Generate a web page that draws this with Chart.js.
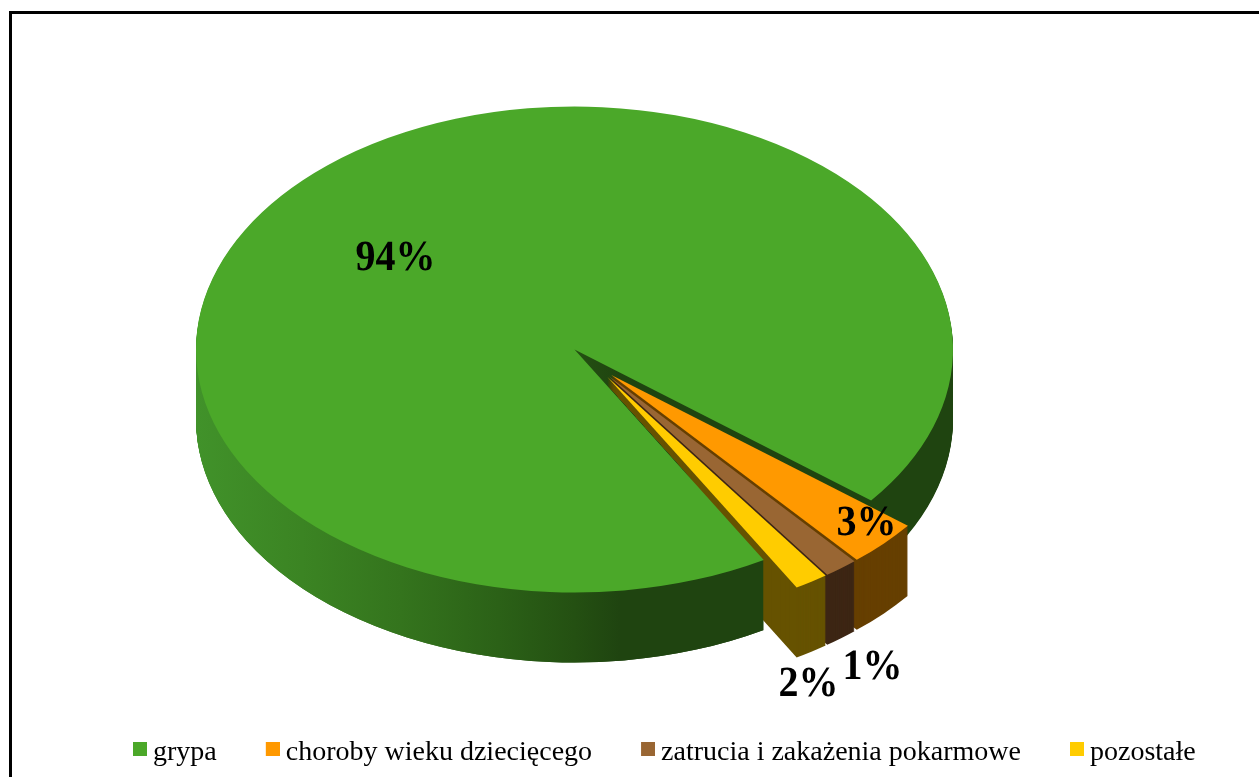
<!DOCTYPE html>
<html>
<head>
<meta charset="utf-8">
<style>
  body { margin: 0; background: #fff; overflow: hidden; }
  #frame { position: absolute; left: 9px; top: 11px; right: 0; bottom: 0; border-left: 3px solid #000; border-top: 3px solid #000; }
  canvas { position: absolute; left: 0; top: 0; }
</style>
<script src="https://cdn.jsdelivr.net/npm/chart.js@4"></script>
</head>
<body>
<div id="frame"></div>
<canvas id="pie" width="1259" height="777"></canvas>
<script>
var categories = ['grypa', 'choroby wieku dziecięcego', 'zatrucia i zakażenia pokarmowe', 'pozostałe'];
// slice sizes, printed labels are rounded
var shares = [94, 3.1, 1.45, 1.45];
var shareLabels = ['94%', '3%', '1%', '2%'];
var topColors = ['#4ba829', '#ff9900', '#996633', '#ffcc00'];
var wallColors = ['#1f4410', '#663f00', '#3d2614', '#665200'];

// look of the fake 3d pie
var pieX = 574.5, pieY = 349.5, pieRadius = 378.5;
var tilt = 0.642, depth = 70, explode = 54, spread = 0.4;
var labelFont = 'bold 43px "Liberation Serif"';
var labelSqueeze = 0.93;
var labelShift = [[-179, -91], [292, 174], [298, 318], [234, 335]];

function paintArc(ctx, arc, fill, drop, groupMid) {
  var mid = (arc.startAngle + arc.endAngle) / 2;
  var saved = arc.options;
  ctx.save();
  ctx.translate(pieX, pieY + drop);
  ctx.scale(1, tilt);
  ctx.translate(-arc.x, -arc.y);
  if (groupMid !== undefined) {
    // the small slices leave the pie nearly as one block
    var dir = groupMid + (mid - groupMid) * spread;
    ctx.translate(Math.cos(dir) * explode, Math.sin(dir) * explode);
  }
  arc.options = Object.assign({}, saved, { backgroundColor: fill, borderWidth: 0 });
  arc.draw(ctx);
  arc.options = saved;
  ctx.restore();
}

function paintWall(ctx, arc, fill, groupMid) {
  for (var drop = depth; drop >= 1; drop--) paintArc(ctx, arc, fill, drop, groupMid);
}

var pie3d = {
  id: 'pie3d',
  beforeDatasetsDraw: function (chart) {
    var ctx = chart.ctx;
    var arcs = chart.getDatasetMeta(0).data;
    var green = arcs[0];
    var groupMid = (arcs[1].startAngle + arcs[arcs.length - 1].endAngle) / 2;

    var shade = ctx.createLinearGradient(green.x - pieRadius, 0, green.x + pieRadius, 0);
    shade.addColorStop(0, '#41922a');
    shade.addColorStop(0.14, '#3b8423');
    shade.addColorStop(0.27, '#34741d');
    shade.addColorStop(0.4, '#2b6117');
    shade.addColorStop(0.5, '#245012');
    shade.addColorStop(0.56, wallColors[0]);
    shade.addColorStop(1, wallColors[0]);

    // back to front, then the near part of the green wall again over the yellow and brown ones
    paintWall(ctx, green, shade);
    for (var i = 1; i < arcs.length; i++) paintWall(ctx, arcs[i], wallColors[i], groupMid);

    var cornerX = pieX + Math.cos(green.startAngle) * pieRadius;
    var cornerY = pieY + Math.sin(green.startAngle) * pieRadius * tilt;
    ctx.save();
    ctx.beginPath();
    ctx.moveTo(pieX, pieY);
    ctx.lineTo(cornerX, cornerY);
    ctx.lineTo(cornerX, chart.height);
    ctx.lineTo(0, chart.height);
    ctx.lineTo(0, pieY);
    ctx.closePath();
    ctx.clip();
    paintWall(ctx, green, shade);
    ctx.restore();

    arcs.forEach(function (arc, i) { paintArc(ctx, arc, topColors[i], 0, i ? groupMid : undefined); });

    ctx.save();
    ctx.font = labelFont;
    ctx.fontKerning = 'normal';
    ctx.textRendering = 'geometricPrecision';
    ctx.fillStyle = '#000';
    ctx.textAlign = 'center';
    ctx.textBaseline = 'middle';
    ctx.scale(labelSqueeze, 1);
    shareLabels.forEach(function (text, i) {
      ctx.fillText(text, (pieX + labelShift[i][0]) / labelSqueeze, pieY + labelShift[i][1]);
    });
    ctx.restore();
    return false;
  }
};

// swatch image with empty left and bottom parts: the colour sits close to the legend text, a bit high
function swatch(color) {
  var c = document.createElement('canvas');
  c.width = 18;
  c.height = 22;
  var g = c.getContext('2d');
  g.fillStyle = color;
  g.fillRect(4, 0, 14, 14);
  return c;
}

new Chart(document.getElementById('pie'), {
  type: 'pie',
  data: {
    labels: categories,
    datasets: [{
      data: shares,
      backgroundColor: topColors,
      borderWidth: 0,
      clip: false
    }]
  },
  options: {
    responsive: false,
    animation: false,
    rotation: 150,
    radius: pieRadius,
    layout: { padding: { left: 84, right: -60, bottom: 0 } },
    plugins: {
      tooltip: { enabled: false },
      legend: {
        position: 'bottom',
        align: 'start',
        labels: {
          color: '#000',
          font: { family: '"Liberation Serif"', size: 28 },
          usePointStyle: true,
          pointStyleWidth: 2,
          boxHeight: 14,
          padding: 53,
          generateLabels: function (chart) {
            return categories.map(function (name, i) {
              return { text: name, fillStyle: topColors[i], pointStyle: swatch(topColors[i]), index: i, lineWidth: 0 };
            });
          }
        }
      }
    }
  },
  plugins: [pie3d]
});
</script>
</body>
</html>
